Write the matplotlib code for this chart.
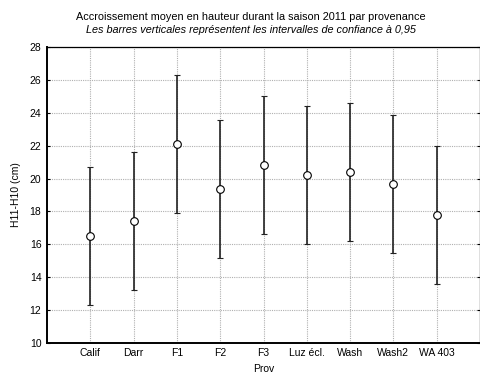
import matplotlib
matplotlib.use("Agg")
import matplotlib.pyplot as plt
import numpy as np

plt.rcParams['font.family'] = ['Liberation Sans', 'DejaVu Sans']

categories = ["Calif", "Darr", "F1", "F2", "F3", "Luz écl.", "Wash", "Wash2", "WA 403"]
means = [16.48, 17.40, 22.10, 19.37, 20.83, 20.22, 20.38, 19.65, 17.80]
lower = [12.28, 13.20, 17.89, 15.17, 16.63, 16.03, 16.19, 15.45, 13.60]
upper = [20.69, 21.60, 26.30, 23.56, 25.04, 24.43, 24.58, 23.87, 22.00]
yticks = [10, 12, 14, 16, 18, 20, 22, 24, 26, 28]

fig = plt.figure(figsize=(4.81, 3.76), dpi=100)
ax = fig.add_axes([0.0977, 0.088, 0.9003, 0.787])

x = np.arange(1, len(categories) + 1)
m = np.array(means)
yerr = np.vstack([m - np.array(lower), np.array(upper) - m])
ax.errorbar(x, m, yerr=yerr, fmt='o', color='black', ecolor='#222222',
            elinewidth=1.2, capsize=2, capthick=1.0,
            markerfacecolor='white', markeredgecolor='black', markersize=5.5,
            markeredgewidth=0.8, zorder=3)

ax.set_xlim(0, 10)
ax.set_ylim(10, 28)
ax.set_xticks(x)
ax.set_xticklabels(categories, fontsize=7.5)
ax.set_yticks(yticks)
ax.set_yticklabels([str(t) for t in yticks], fontsize=7.5)
ax.tick_params(axis='both', length=0, pad=4)
ax.tick_params(axis='y', right=True, direction='in', length=2)
ax.grid(True, linestyle=(0, (1, 1)), color='#b0b0b0', linewidth=0.8)
ax.set_axisbelow(True)
for s in ax.spines.values():
    s.set_linewidth(0.9)
ax.spines['left'].set_linewidth(1.4)
ax.spines['bottom'].set_linewidth(1.4)

ax.set_xlabel("Prov", fontsize=7.5, labelpad=4)
ax.set_ylabel("H11-H10 (cm)", fontsize=7.5, labelpad=6)

fig.text(0.522, 0.955, "Accroissement moyen en hauteur durant la saison 2011 par provenance",
         ha='center', va='center', fontsize=7.8)
fig.text(0.522, 0.92, "Les barres verticales représentent les intervalles de confiance à 0,95",
         ha='center', va='center', fontsize=7.8, style='italic')

fig.savefig("out.png", dpi=100)
